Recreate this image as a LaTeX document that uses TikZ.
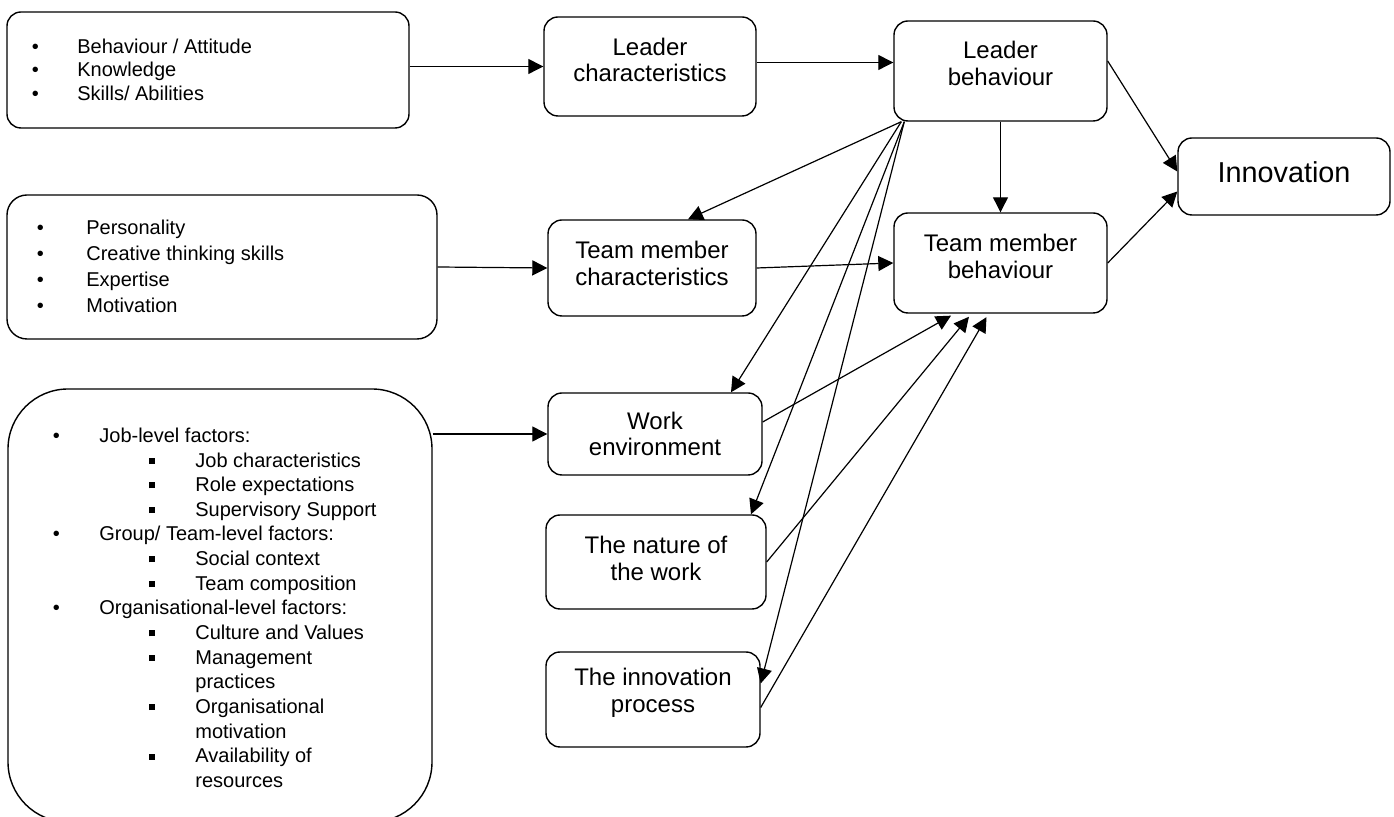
\documentclass[tikz,border=0pt]{standalone}
\usepackage{fontspec}
\setmainfont{Liberation Sans}
\usetikzlibrary{arrows.meta}
\newcommand{\sqbul}{\rule[1.6pt]{3pt}{3pt}}
\setlength{\tabcolsep}{0pt}

\begin{document}
\begin{tikzpicture}[x=0.5pt,y=-0.5pt,
    box/.style={draw,line width=0.7pt,rounded corners=7pt,inner sep=0pt},
    lbl/.style={align=center,inner sep=0pt,font=\fontsize{12}{13.4}\selectfont},
    lst/.style={anchor=north west,inner sep=0pt}]
  \useasboundingbox (0,0) rectangle (1394,817);

  % the three lists on the left
  \node[box,minimum width=201pt,minimum height=58pt] (leaderattr) at (208,70) {};
  \node[box,minimum width=215pt,minimum height=72pt,rounded corners=10pt] (memberattr) at (222,267) {};
  \node[box,minimum width=212pt,minimum height=216.5pt,rounded corners=30pt] (context) at (220,605.5) {};

  \node[lst,font=\fontsize{10}{11.75}\selectfont] (leaderattr-list) at (31.5,36.5) {%
    \begin{tabular}{p{22.75pt}l}
      \textbullet & Behaviour / Attitude\\
      \textbullet & Knowledge\\
      \textbullet & Skills/ Abilities
    \end{tabular}};
  \node[lst,font=\fontsize{10}{13}\selectfont] (memberattr-list) at (36.5,215.8) {%
    \begin{tabular}{p{24.75pt}l}
      \textbullet & Personality\\
      \textbullet & Creative thinking skills\\
      \textbullet & Expertise\\
      \textbullet & Motivation
    \end{tabular}};
  \node[lst,font=\fontsize{10}{12.32}\selectfont] (context-list) at (52.5,424.75) {%
    \begin{tabular}{p{23.25pt}p{25pt}p{23pt}l}
      \textbullet & \multicolumn{3}{l}{Job-level factors:}\\
      & & \sqbul & Job characteristics\\
      & & \sqbul & Role expectations\\
      & & \sqbul & Supervisory Support\\
      \textbullet & \multicolumn{3}{l}{Group/ Team-level factors:}\\
      & & \sqbul & Social context\\
      & & \sqbul & Team composition\\
      \textbullet & \multicolumn{3}{l}{Organisational-level factors:}\\
      & & \sqbul & Culture and Values\\
      & & \sqbul & Management\\
      & & & practices\\
      & & \sqbul & Organisational\\
      & & & motivation\\
      & & \sqbul & Availability of\\
      & & & resources
    \end{tabular}};

  % middle and right boxes
  \node[box,minimum width=106pt,minimum height=49.5pt,
    label={[lbl,yshift=3.25pt]center:Leader\\characteristics}] (lchar) at (650,66.5) {};
  \node[box,minimum width=106.5pt,minimum height=50pt,
    label={[lbl,yshift=3.75pt]center:Leader\\behaviour}] (lbeh) at (1000.5,71) {};
  \node[box,minimum width=104pt,minimum height=48pt,
    label={[lbl,yshift=2.25pt]center:Team member\\characteristics}] (tmchar) at (652,268) {};
  \node[box,minimum width=106.5pt,minimum height=50pt,
    label={[lbl,yshift=3.25pt]center:Team member\\behaviour}] (tmbeh) at (1000.5,263) {};
  \node[box,minimum width=107pt,minimum height=41pt,
    label={[lbl]center:Work\\environment}] (workenv) at (655,434) {};
  \node[box,minimum width=110pt,minimum height=47pt,
    label={[lbl,yshift=1.75pt]center:The nature of\\the work}] (nature) at (656,562) {};
  \node[box,minimum width=107pt,minimum height=47.5pt,
    label={[lbl,yshift=3.5pt]center:The innovation\\process}] (inproc) at (653,699.5) {};
  \node[box,minimum width=106pt,minimum height=38.5pt,
    label={[lbl,yshift=2.25pt,font=\fontsize{14.4}{16}\selectfont]center:Innovation}] (innov) at (1284,176.5) {};

  \begin{scope}[->,>={Triangle[length=7.5pt,width=7.5pt]},line width=0.6pt]
    \draw (lchar.west -| leaderattr.east) -- (lchar.west);
    \draw ([yshift=2pt]lchar.east) -- ([yshift=2pt]lchar.east -| lbeh.west);
    \draw (memberattr.east) -- (tmchar.west);
    \draw (tmchar.east) -- (tmbeh.west);
    \draw (workenv.west -| context.east) -- (workenv.west);
    \draw ([yshift=5pt]lbeh.east) -- ([yshift=2.5pt]innov.west);
    \draw (tmbeh.east) -- ([yshift=-7.5pt]innov.west);
    \draw (lbeh) -- (tmbeh);
    % leader behaviour fans out
    \draw ([xshift=4pt]lbeh.south west) -- ([xshift=18pt]tmchar.north);
    \draw ([xshift=4pt]lbeh.south west) -- ([xshift=38pt]workenv.north);
    \draw ([xshift=5.5pt]lbeh.south west) -- ([xshift=47.5pt]nature.north);
    \draw ([xshift=5.5pt]lbeh.south west) -- ([yshift=8pt]inproc.east);
    % back to team member behaviour
    \draw[shorten >=2pt] ([yshift=6pt]workenv.east) -- ([xshift=-23pt]tmbeh.south);
    \draw[shorten >=2pt] (nature.east) -- ([xshift=-14.5pt]tmbeh.south);
    \draw[shorten >=2pt] ([yshift=-4pt]inproc.east) -- ([xshift=-6pt]tmbeh.south);
  \end{scope}
\end{tikzpicture}
\end{document}
